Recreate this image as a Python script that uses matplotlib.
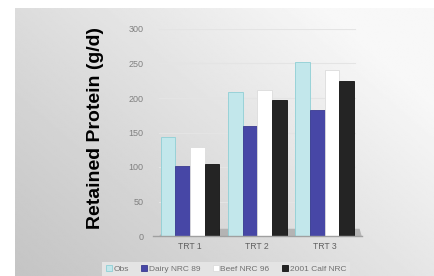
import numpy as np
import matplotlib
matplotlib.use("Agg")
import matplotlib.pyplot as plt
from matplotlib.patches import Polygon

categories = ["TRT 1", "TRT 2", "TRT 3"]
series_names = ["Obs", "Dairy NRC 89", "Beef NRC 96", "2001 Calf NRC"]
obs = [143, 208, 252]
dairy = [101, 159, 182]
beef = [129, 211, 240]
calf = [105, 197, 225]
yticks = [0, 50, 100, 150, 200, 250, 300]

W, H = 434, 276
fig = plt.figure(figsize=(W / 100, H / 100), dpi=100)
fig.patch.set_facecolor("white")

# background gradient panel
bg = fig.add_axes([15 / W, 0, 1 - 15 / W, 1 - 8 / H])
bg.set_axis_off()
yy, xx = np.mgrid[0:1:200j, 0:1:300j]
g = 0.77 + 0.20 * np.clip((xx * 0.75 + yy * 0.55) / 1.1, 0, 1) ** 1.1
bg.imshow(g, cmap="gray", vmin=0, vmax=1, origin="lower", aspect="auto",
          extent=[0, 1, 0, 1], interpolation="bilinear")

ax = fig.add_axes([153 / W, 1 - 236 / H, (361.7 - 153) / W, (236 - 29) / H])
ax.set_facecolor("none")
ax.set_xlim(-0.55, 2.55)
ax.set_ylim(0, 300)

# floor
floor = Polygon([[0.03, 0.0], [1.0, 0.0], [0.99, 0.035], [0.06, 0.035]],
                closed=True, transform=ax.transAxes, facecolor="#b4b4b4",
                edgecolor="none", zorder=0.5)
ax.add_patch(floor)

for t in yticks[1:]:
    ax.plot([0.03, 0.97], [t, t], transform=ax.get_yaxis_transform(),
            color="#e4e4e4", lw=0.8, zorder=0.4)

colors = ["#c2e7eb", "#4747a6", "#ffffff", "#242424"]
edges = ["#8fcfd5", "#3a3a90", "#dcdcdc", "#111111"]
x = np.arange(len(categories))
bw = 0.218
data = [obs, dairy, beef, calf]
for i, (vals, c, e) in enumerate(zip(data, colors, edges)):
    ax.bar(x + (i - 1.5) * bw, vals, width=bw, color=c, edgecolor=e,
           linewidth=0.6, zorder=2, label=series_names[i])

for s in ["top", "right", "left"]:
    ax.spines[s].set_visible(False)
ax.spines["bottom"].set_color("#a0a0a0")
ax.spines["bottom"].set_linewidth(1.0)
ax.set_xticks(x)
ax.set_xticklabels(categories, fontsize=6.2, color="#606060",
                   family="Liberation Sans")
ax.set_yticks(yticks)
ax.set_yticklabels([str(t) for t in yticks], fontsize=6.5, color="#808080",
                   family="Liberation Sans")
ax.tick_params(axis="y", length=0, pad=7)
ax.tick_params(axis="x", length=0, pad=4)

fig.text(96 / W, 1 - 128 / H, "Retained Protein (g/d)", rotation=90,
         ha="center", va="center", fontsize=14, fontweight="bold",
         family="Liberation Sans", color="black")

# legend
lg = fig.add_axes([102 / W, 0, (350 - 102) / W, 14 / H])
lg.set_xlim(0, 1)
lg.set_ylim(0, 1)
lg.set_facecolor("#e4e4e4")
for s in lg.spines.values():
    s.set_visible(False)
lg.set_xticks([])
lg.set_yticks([])
handles, labels = ax.get_legend_handles_labels()
leg = lg.legend(handles, labels, loc="center", ncol=4, frameon=False,
                fontsize=6.0, handlelength=0.7, handleheight=0.7,
                handletextpad=0.2, columnspacing=1.5, borderaxespad=0)
for t in leg.get_texts():
    t.set_color("#707070")
    t.set_family("Liberation Sans")

fig.savefig("out.png", dpi=100)
